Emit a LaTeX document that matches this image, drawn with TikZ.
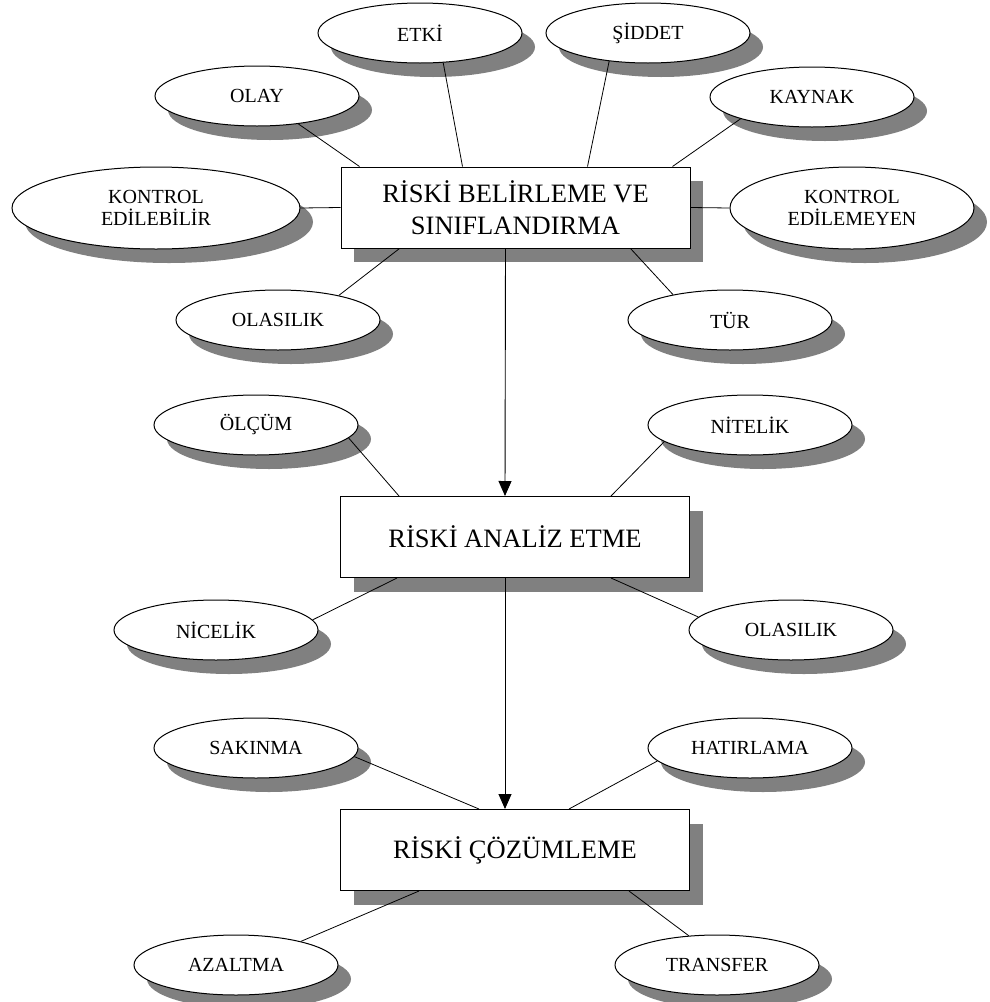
\documentclass[tikz,border=0pt]{standalone}
\usepackage{fontspec}
\setmainfont{Liberation Serif}
\usepackage{tikz}
\usetikzlibrary{shapes.geometric,shadows,arrows.meta}

\begin{document}
\begin{tikzpicture}[x=1pt,y=-1pt,
    riskoval/.style={ellipse,draw,line width=1pt,fill=white,inner sep=0pt,
      minimum width=204pt,minimum height=60pt,align=center,
      font=\fontsize{20}{22}\selectfont,
      drop shadow={shadow xshift=13pt,shadow yshift=-14pt,fill=black!50,opacity=1}},
    stagebox/.style={rectangle,draw,line width=1pt,fill=white,inner sep=0pt,
      minimum width=349pt,minimum height=81pt,align=center,
      font=\fontsize{26.5}{32}\selectfont,
      drop shadow={shadow xshift=13pt,shadow yshift=-14pt,fill=black!50,opacity=1}},
    link/.style={draw,line width=0.8pt},
    flow/.style={draw,line width=0.9pt,-{Triangle[length=15pt,width=13pt]}}]
  \useasboundingbox[fill=white] (0,0) rectangle (989,1002);

  % main stages
  \node[stagebox] (b1) at (515.5,207.5) {RİSKİ BELİRLEME VE\\SINIFLANDIRMA};
  \node[stagebox] (b2) at (515,537) {RİSKİ ANALİZ ETME};
  \node[stagebox] (b3) at (515,850) {RİSKİ ÇÖZÜMLEME};

  % first stage
  \node[riskoval] (olay) at (257,96) {OLAY};
  \node[riskoval] (etki) at (420,33) {ETKİ};
  \node[riskoval] (siddet) at (648,33) {ŞİDDET};
  \node[riskoval] (kaynak) at (812,97) {KAYNAK};
  \node[riskoval,minimum width=288pt,minimum height=82pt] (kedb) at (156,208) {KONTROL\\EDİLEBİLİR};
  \node[riskoval,minimum width=244pt,minimum height=82pt] (kedm) at (852,208) {KONTROL\\EDİLEMEYEN};
  \node[riskoval] (olasa) at (278,320) {OLASILIK};
  \node[riskoval] (tur) at (730,320) {TÜR};

  % second stage
  \node[riskoval] (olcum) at (256,425) {ÖLÇÜM};
  \node[riskoval] (nitelik) at (750,425) {NİTELİK};
  \node[riskoval] (nicelik) at (216,630) {NİCELİK};
  \node[riskoval] (olasb) at (791,630) {OLASILIK};

  % third stage
  \node[riskoval] (sakinma) at (256,748) {SAKINMA};
  \node[riskoval] (hatirlama) at (750,748) {HATIRLAMA};
  \node[riskoval] (azaltma) at (236,965) {AZALTMA};
  \node[riskoval] (transfer) at (717,965) {TRANSFER};

  \draw[link] (olay.-34) -- ([xshift=19pt]b1.north west);
  \draw[link] (etki.-52) -- ([xshift=122pt]b1.north west);
  \draw[link] (siddet.-144) -- ([xshift=-103pt]b1.north east);
  \draw[link] (kaynak.-163) -- ([xshift=-18pt]b1.north east);
  \draw[link] (kedb.east) -- (b1.west);
  \draw[link] (b1.east) -- (kedm.west);
  \draw[link] (olasa.22) -- ([xshift=59pt]b1.south west);
  \draw[link] (tur.156) -- ([xshift=-60pt]b1.south east);

  \draw[link] (olcum.-8) -- ([xshift=59pt]b2.north west);
  \draw[link] (nitelik.-169) -- ([xshift=-79pt]b2.north east);
  \draw[link] (nicelik.6) -- ([xshift=57pt]b2.south west);
  \draw[link] (olasb.172) -- ([xshift=-79pt]b2.south east);

  \draw[link] (sakinma.-5) -- ([xshift=139pt]b3.north west);
  \draw[link] (hatirlama.-172) -- ([xshift=-121pt]b3.north east);
  \draw[link] (azaltma.20) -- ([xshift=79pt]b3.south west);
  \draw[link] (transfer.134) -- ([xshift=-61pt]b3.south east);

  \draw[flow] ([xshift=-10pt]b1.south) -- ([xshift=-10pt]b2.north);
  \draw[flow] ([xshift=-10pt]b2.south) -- ([xshift=-10pt]b3.north);
\end{tikzpicture}
\end{document}
